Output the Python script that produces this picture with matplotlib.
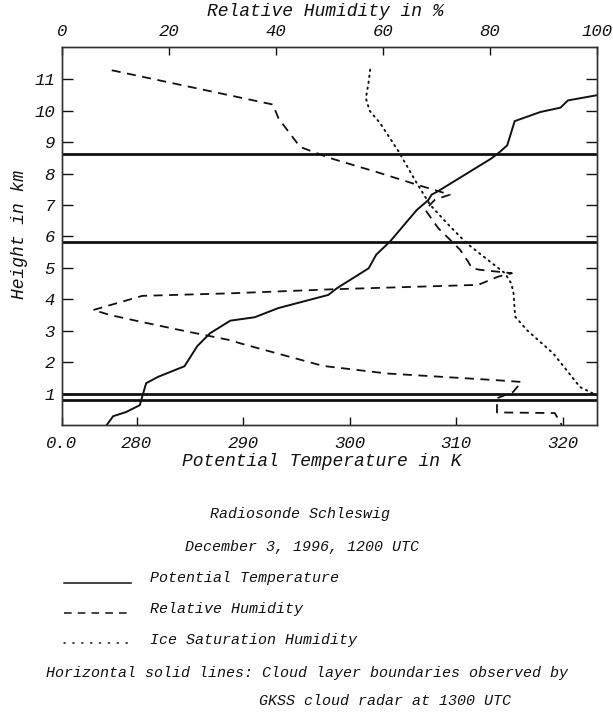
import matplotlib
matplotlib.use("Agg")
import matplotlib.pyplot as plt

# Potential temperature profile (K) vs height (km)
theta_K = [277.2, 277.8, 279.0, 280.3, 280.9, 282.0, 284.5, 285.7, 286.9, 288.8,
           291.1, 293.3, 298.0, 298.8, 301.8, 302.5, 303.8, 306.3, 307.4, 307.7,
           308.3, 313.3, 314.0, 314.8, 315.5, 317.9, 319.8, 320.5, 323.3]
theta_h = [0.0, 0.28, 0.41, 0.63, 1.33, 1.53, 1.87, 2.51, 2.92, 3.32,
           3.43, 3.72, 4.14, 4.35, 4.99, 5.42, 5.84, 6.84, 7.16, 7.33,
           7.44, 8.48, 8.66, 8.90, 9.67, 9.96, 10.10, 10.33, 10.50]

# Relative humidity profile (%) vs height (km)
rh_pct = [9.3, 39.4, 40.5, 44.5, 50.0, 59.4, 66.3, 72.5, 69.7, 67.9,
          70.3, 74.4, 75.9, 76.6, 78.1, 84.1, 81.5, 77.8, 50.7, 31.4,
          15.0, 5.85, 9.0, 14.6, 22.1, 31.4, 33.3, 48.8, 60.7, 80.9,
          85.9, 84.3, 81.3, 81.3, 92.1, 93.4]
rh_h = [11.29, 10.20, 9.75, 8.85, 8.50, 8.02, 7.65, 7.33, 7.17, 6.85,
        6.27, 5.58, 5.20, 4.99, 4.94, 4.83, 4.72, 4.46, 4.32, 4.19,
        4.11, 3.66, 3.50, 3.29, 3.02, 2.70, 2.60, 1.88, 1.64, 1.43,
        1.37, 1.05, 0.85, 0.40, 0.38, 0.0]

# Ice saturation humidity (%) vs height (km)
ice_pct = [57.6, 57.3, 56.8, 57.5, 59.4, 62.9, 66.3, 68.8, 71.9, 75.6,
           80.0, 82.8, 84.0, 84.4, 84.7, 86.9, 91.8, 94.3, 96.8, 99.3, 100.5]
ice_h = [11.31, 10.9, 10.4, 10.0, 9.62, 8.71, 7.70, 7.01, 6.43, 5.79,
         5.20, 4.83, 4.50, 4.19, 3.45, 3.02, 2.28, 1.75, 1.21, 1.0, 0.9]

# Cloud layer boundaries from radar (km)
cloud_bounds = [8.61, 5.82, 1.00, 0.79]

temp_ticks = [273.0, 280, 290, 300, 310, 320]
temp_tick_labels = ["0.0", "280", "290", "300", "310", "320"]
rh_ticks = [0, 20, 40, 60, 80, 100]
height_ticks = list(range(1, 12))

W, H = 613, 713
FONT = "Liberation Mono"
ink = "#111111"

fig = plt.figure(figsize=(W / 100, H / 100), dpi=100)
fig.patch.set_facecolor("white")


def fx(px):
    return px / W


def fy(py):
    return 1 - py / H


left, right, top, bottom = 62, 597, 47, 425
ax = fig.add_axes([fx(left), fy(bottom), fx(right) - fx(left), fy(top) - fy(bottom)])
ax.set_xlim(273.0, 323.23)
ax.set_ylim(0, 12.03)

ax2 = ax.twiny()
ax2.set_xlim(0, 100)

for a in (ax, ax2):
    for s in a.spines.values():
        s.set_linewidth(1.0)
        s.set_color("#333333")

# Potential temperature
ax.plot(theta_K, theta_h, color=ink, lw=1.4, solid_joinstyle="miter", clip_on=True)

# Cloud layer boundaries
for hb in cloud_bounds:
    ax.axhline(hb, color=ink, lw=2.0)

# Relative humidity and ice saturation
ax2.plot(rh_pct, rh_h, color=ink, lw=1.3, dashes=(5.0, 3.6))
ax2.plot(ice_pct, ice_h, color=ink, lw=1.4, dashes=(0.7, 2.4),
         dash_capstyle="round")

tick_font = dict(family=FONT, style="italic", size=12.5)

ax.set_xticks(temp_ticks)
ax.set_xticklabels(temp_tick_labels, fontdict=tick_font)
ax.set_yticks(height_ticks)
ax.set_yticklabels([str(v) for v in height_ticks], fontdict=tick_font)
ax.tick_params(axis="x", direction="in", length=6, width=1, pad=8, colors=ink,
               top=False)
ax.tick_params(axis="y", direction="in", length=8, width=1, pad=5, colors=ink,
               right=True, labelright=False)

ax2.set_xticks(rh_ticks)
ax2.set_xticklabels([str(v) for v in rh_ticks], fontdict=tick_font)
ax2.tick_params(axis="x", direction="in", length=6, width=1, pad=6, colors=ink)

label_font = dict(family=FONT, style="italic", size=13, color=ink)
fig.text(fx(325), fy(12), "Relative Humidity in %", ha="center", va="center", **label_font)
fig.text(fx(322), fy(461), "Potential Temperature in K", ha="center", va="center", **label_font)
fig.text(fx(20), fy(234), "Height in km", ha="center", va="center", rotation=90, **label_font)

text_font = dict(family=FONT, style="italic", size=10.8, color=ink)
fig.text(fx(300), fy(514), "Radiosonde Schleswig", ha="center", va="center", **text_font)
fig.text(fx(302), fy(547), "December 3, 1996, 1200 UTC", ha="center", va="center", **text_font)

# Legend entries
leg_y = [578, 609, 640]
leg_text = ["Potential Temperature", "Relative Humidity", "Ice Saturation Humidity"]
leg_style = [dict(ls="-"), dict(dashes=(5.0, 4.0)), dict(dashes=(0.8, 5.0), dash_capstyle="round")]
leg_off = [5, 4, 3]
for yy, txt, st, off in zip(leg_y, leg_text, leg_style, leg_off):
    fig.add_artist(plt.Line2D([fx(64), fx(131)], [fy(yy + off), fy(yy + off)],
                              color=ink, lw=1.1, transform=fig.transFigure, **st))
    fig.text(fx(150), fy(yy), txt, ha="left", va="center", **text_font)

fig.text(fx(307), fy(673), "Horizontal solid lines: Cloud layer boundaries observed by",
         ha="center", va="center", **text_font)
fig.text(fx(259), fy(701), "GKSS cloud radar at 1300 UTC", ha="left", va="center", **text_font)

fig.savefig("out.png", dpi=100)
